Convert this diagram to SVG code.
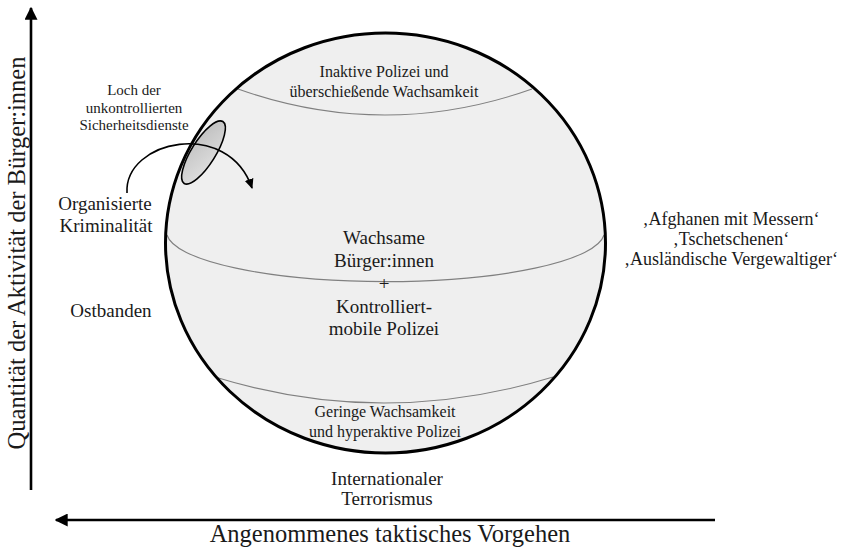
<svg xmlns="http://www.w3.org/2000/svg" width="846" height="547" viewBox="0 0 846 547">
<defs>
<style>
text{font-family:"Liberation Serif","Times New Roman",serif;fill:#1a1a1a;text-anchor:middle}
.band{fill:none;stroke:#808080;stroke-width:1.1}
.axis{stroke:#000;stroke-width:2.6;fill:none}
.t16{font-size:16px}
.t15{font-size:15px}
.t19{font-size:19px}
.t18{font-size:18px}
.t24{font-size:24.5px}
</style>
<marker id="ah" viewBox="0 0 10 10" refX="9" refY="5" markerWidth="5" markerHeight="5" orient="auto" markerUnits="strokeWidth">
<path d="M0,0 L10,5 L0,10 z" fill="#000"/>
</marker>
<marker id="ah2" viewBox="0 0 10 10" refX="8" refY="5" markerWidth="7" markerHeight="7" orient="auto" markerUnits="strokeWidth">
<path d="M0,1 L9,5 L0,9 z" fill="#000"/>
</marker>
<linearGradient id="holeg" x1="0" y1="0" x2="1" y2="1">
<stop offset="0" stop-color="#bdbdbd"/>
<stop offset="1" stop-color="#e2e2e2"/>
</linearGradient>
</defs>
<rect width="846" height="547" fill="#fff"/>
<g id="sphere">
<ellipse cx="385.5" cy="243" rx="220" ry="210" fill="#efefef"/>
<path class="band" d="M238,89 Q385,141 532,89"/>
<path class="band" d="M167,235 A219,50 0 0 0 604,235"/>
<path class="band" d="M215,377 Q384,429 553,377"/>
</g>
<g id="hole">
<ellipse cx="203.5" cy="152.5" rx="12" ry="36.5" transform="rotate(32 203.5 152.5)" fill="url(#holeg)" stroke="#000" stroke-width="1.6"/>
</g>
<g id="sphere-outline">
<ellipse cx="385.5" cy="243" rx="220" ry="210" fill="none" stroke="#000" stroke-width="3"/>
</g>
<g id="connectors">
<path class="axis" d="M31,490 L31,8" marker-end="url(#ah)"/>
<path class="axis" d="M715,520 L56,520" marker-end="url(#ah)"/>
<path d="M127,193 C124,140 228,118 252,188" fill="none" stroke="#000" stroke-width="1.6" marker-end="url(#ah2)"/>
</g>
<g id="label-top">
<text class="t16" x="384" y="77">Inaktive Polizei und</text>
<text class="t16" x="384" y="97">überschießende Wachsamkeit</text>
</g>
<g id="label-middle">
<text class="t19" x="384" y="244">Wachsame</text>
<text class="t19" x="384" y="267">Bürger:innen</text>
<text class="t19" x="384" y="290">+</text>
<text class="t19" x="384" y="313">Kontrolliert-</text>
<text class="t19" x="384" y="335">mobile Polizei</text>
</g>
<g id="label-bottom">
<text class="t16" x="385" y="417">Geringe Wachsamkeit</text>
<text class="t16" x="385" y="437">und hyperaktive Polizei</text>
</g>
<g id="loch">
<text class="t15" x="134" y="95">Loch der</text>
<text class="t15" x="134" y="113">unkontrollierten</text>
<text class="t15" x="134" y="130">Sicherheitsdienste</text>
</g>
<g id="orgkrim">
<text class="t19" x="105" y="210">Organisierte</text>
<text class="t19" x="106" y="232">Kriminalität</text>
</g>
<g id="ostbanden">
<text class="t19" x="111" y="317">Ostbanden</text>
</g>
<g id="terror">
<text class="t19" x="387" y="485">Internationaler</text>
<text class="t19" x="387" y="505">Terrorismus</text>
</g>
<g id="right-labels">
<text class="t18" x="731" y="225">‚Afghanen mit Messern‘</text>
<text class="t18" x="731" y="245">‚Tschetschenen‘</text>
<text class="t18" x="731" y="265">‚Ausländische Vergewaltiger‘</text>
</g>
<g id="axis-labels">
<text class="t24" x="390" y="542">Angenommenes taktisches Vorgehen</text>
<text class="t24" transform="translate(25 253) rotate(-90)">Quantität der Aktivität der Bürger:innen</text>
</g>
</svg>
